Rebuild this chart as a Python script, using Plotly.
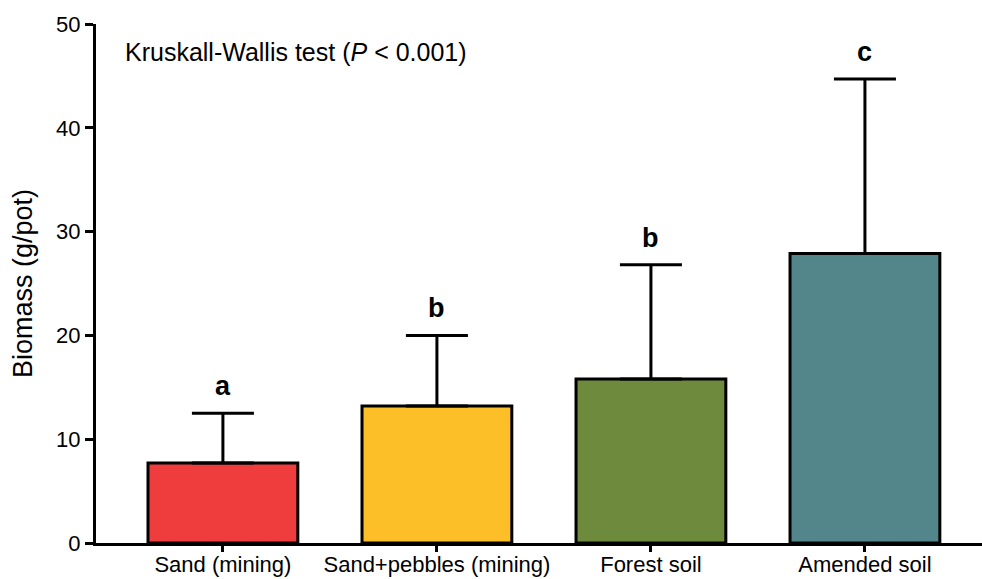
import plotly.graph_objects as go

categories = ["Sand (mining)", "Sand+pebbles (mining)", "Forest soil", "Amended soil"]
means = [7.7, 13.2, 15.8, 27.9]
sd_upper = [4.8, 6.8, 11.0, 16.8]
letters = ["a", "b", "b", "c"]
colors = ["#EE3D3C", "#FDBF27", "#6E8B3D", "#53868A"]

FONT = "Liberation Sans, Arial"

fig = go.Figure()
fig.add_trace(go.Bar(
    x=categories,
    y=means,
    width=0.70,
    marker=dict(color=colors, line=dict(color="black", width=3)),
    error_y=dict(type="data", array=sd_upper, arrayminus=[0] * 4, symmetric=False,
                 color="black", thickness=3, width=31, visible=True),
    showlegend=False,
))

# significance letters above each error bar
for cat, m, s, lab in zip(categories, means, sd_upper, letters):
    fig.add_annotation(x=cat, y=m + s, text="<b>%s</b>" % lab, showarrow=False,
                       yanchor="bottom", yshift=10,
                       font=dict(family=FONT, size=27, color="black"))

fig.add_annotation(xref="paper", yref="paper", x=0.031, y=0.947, xanchor="left", yanchor="middle",
                   text="Kruskall-Wallis test (<i>P</i> < 0.001)", showarrow=False,
                   font=dict(family=FONT, size=25, color="black"))

fig.update_layout(
    width=982, height=579,
    margin=dict(l=96, r=0, t=24, b=36),
    plot_bgcolor="white", paper_bgcolor="white",
    font=dict(family=FONT, color="black"),
    bargap=0.3,
)
fig.update_xaxes(
    range=[-0.593, 3.547], showline=True, linecolor="black", linewidth=3,
    ticks="outside", ticklen=6, tickwidth=2.5, tickcolor="black",
    tickfont=dict(size=22), ticklabelstandoff=-6,
    showgrid=False, zeroline=False, automargin=False,
)
fig.update_yaxes(
    range=[0, 50], tickvals=[0, 10, 20, 30, 40, 50],
    showline=True, linecolor="black", linewidth=3,
    ticks="outside", ticklen=8, tickwidth=2.5, tickcolor="black",
    tickfont=dict(size=22), showgrid=False, zeroline=False, automargin=False,
    title=dict(text="Biomass (g/pot)", font=dict(size=27), standoff=16),
)

fig.write_html("out.html")
